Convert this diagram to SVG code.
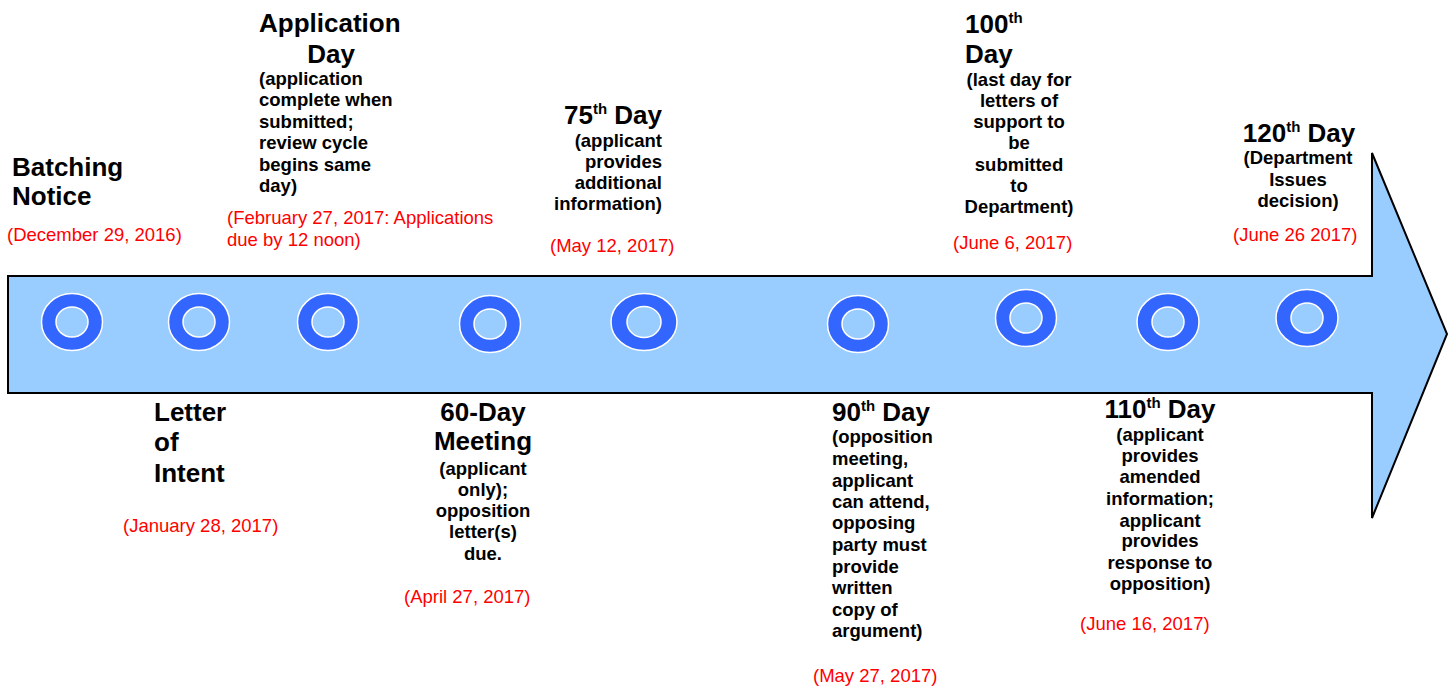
<svg xmlns="http://www.w3.org/2000/svg" width="1450" height="686" viewBox="0 0 1450 686">
<style>
  text { font-family: "Liberation Sans", Arial, sans-serif; }
  .t { font-size: 26px; font-weight: bold; fill: #000; }
  .s { font-size: 18.5px; font-weight: bold; fill: #000; }
  .d { font-size: 18.5px; fill: #FF0000; }
  .sup { font-size: 15px; }
  .ro { fill: #3366FF; stroke: #FFFFFF; stroke-width: 1.5; }
  .ri { fill: #99CCFF; stroke: #FFFFFF; stroke-width: 1.5; }
</style>
<rect width="1450" height="686" fill="#FFFFFF"/>
<g id="timeline">
  <path d="M8,276 L1372,276 L1372,153 L1447,334 L1372,518 L1372,393 L8,393 Z" fill="#99CCFF" stroke="#000000" stroke-width="2" stroke-linejoin="miter"/>
</g>
<g id="markers">
  <g id="m1"><ellipse class="ro" cx="72" cy="322" rx="30.5" ry="28.5"/><ellipse class="ri" cx="72" cy="322" rx="16" ry="15"/></g>
  <g id="m2"><ellipse class="ro" cx="199" cy="322" rx="30.5" ry="28.5"/><ellipse class="ri" cx="199" cy="322" rx="16" ry="15"/></g>
  <g id="m3"><ellipse class="ro" cx="328" cy="322" rx="30.5" ry="28.5"/><ellipse class="ri" cx="328" cy="322" rx="16" ry="15"/></g>
  <g id="m4"><ellipse class="ro" cx="490" cy="324" rx="30.5" ry="28.5"/><ellipse class="ri" cx="490" cy="324" rx="16" ry="15"/></g>
  <g id="m5"><ellipse class="ro" cx="644" cy="322" rx="33" ry="28.5"/><ellipse class="ri" cx="644" cy="322" rx="17" ry="15.5"/></g>
  <g id="m6"><ellipse class="ro" cx="858" cy="324" rx="30.5" ry="28.5"/><ellipse class="ri" cx="858" cy="324" rx="16" ry="15"/></g>
  <g id="m7"><ellipse class="ro" cx="1026" cy="318" rx="30.5" ry="28.5"/><ellipse class="ri" cx="1026" cy="318" rx="16" ry="15"/></g>
  <g id="m8"><ellipse class="ro" cx="1168" cy="322" rx="31" ry="28.5"/><ellipse class="ri" cx="1168" cy="322" rx="16" ry="15"/></g>
  <g id="m9"><ellipse class="ro" cx="1307" cy="318" rx="31" ry="28.5"/><ellipse class="ri" cx="1307" cy="318" rx="16" ry="15"/></g>
</g>
<g id="connectors"></g>

<g id="batching">
  <text class="t" x="12" y="176">Batching</text>
  <text class="t" x="12" y="205">Notice</text>
  <text class="d" x="7" y="241">(December 29, 2016)</text>
</g>

<g id="letter-of-intent">
  <text class="t" x="154" y="421">Letter</text>
  <text class="t" x="154" y="451">of</text>
  <text class="t" x="154" y="482">Intent</text>
  <text class="d" x="123" y="532">(January 28, 2017)</text>
</g>

<g id="application-day">
  <text class="t" x="259" y="32">Application</text>
  <text class="t" x="331" y="63" text-anchor="middle">Day</text>
  <text class="s" x="259" y="85">(application</text>
  <text class="s" x="259" y="106">complete when</text>
  <text class="s" x="259" y="128">submitted;</text>
  <text class="s" x="259" y="149">review cycle</text>
  <text class="s" x="259" y="171">begins same</text>
  <text class="s" x="259" y="192">day)</text>
  <text class="d" x="227" y="224">(February 27, 2017: Applications</text>
  <text class="d" x="227" y="246">due by 12 noon)</text>
</g>

<g id="day-60">
  <text class="t" x="483" y="421" text-anchor="middle">60-Day</text>
  <text class="t" x="483" y="450" text-anchor="middle">Meeting</text>
  <text class="s" x="483" y="475" text-anchor="middle">(applicant</text>
  <text class="s" x="483" y="496" text-anchor="middle">only);</text>
  <text class="s" x="483" y="517" text-anchor="middle">opposition</text>
  <text class="s" x="483" y="538" text-anchor="middle">letter(s)</text>
  <text class="s" x="483" y="560" text-anchor="middle">due.</text>
  <text class="d" x="404" y="603">(April 27, 2017)</text>
</g>

<g id="day-75">
  <text class="t" x="662" y="124" text-anchor="end">75<tspan class="sup" dy="-10">th</tspan><tspan dy="10"> Day</tspan></text>
  <text class="s" x="662" y="147" text-anchor="end">(applicant</text>
  <text class="s" x="662" y="168" text-anchor="end">provides</text>
  <text class="s" x="662" y="189" text-anchor="end">additional</text>
  <text class="s" x="662" y="210" text-anchor="end">information)</text>
  <text class="d" x="550" y="252">(May 12, 2017)</text>
</g>

<g id="day-90">
  <text class="t" x="832" y="421">90<tspan class="sup" dy="-10">th</tspan><tspan dy="10"> Day</tspan></text>
  <text class="s" x="832" y="443">(opposition</text>
  <text class="s" x="832" y="465">meeting,</text>
  <text class="s" x="832" y="487">applicant</text>
  <text class="s" x="832" y="508">can attend,</text>
  <text class="s" x="832" y="529">opposing</text>
  <text class="s" x="832" y="551">party must</text>
  <text class="s" x="832" y="573">provide</text>
  <text class="s" x="832" y="594">written</text>
  <text class="s" x="832" y="616">copy of</text>
  <text class="s" x="832" y="637">argument)</text>
  <text class="d" x="813" y="682">(May 27, 2017)</text>
</g>

<g id="day-100">
  <text class="t" x="965" y="33">100<tspan class="sup" dy="-10">th</tspan></text>
  <text class="t" x="965" y="63">Day</text>
  <text class="s" x="1019" y="86" text-anchor="middle">(last day for</text>
  <text class="s" x="1019" y="107" text-anchor="middle">letters of</text>
  <text class="s" x="1019" y="128" text-anchor="middle">support to</text>
  <text class="s" x="1019" y="149" text-anchor="middle">be</text>
  <text class="s" x="1019" y="171" text-anchor="middle">submitted</text>
  <text class="s" x="1019" y="192" text-anchor="middle">to</text>
  <text class="s" x="1019" y="213" text-anchor="middle">Department)</text>
  <text class="d" x="953" y="249">(June 6, 2017)</text>
</g>

<g id="day-110">
  <text class="t" x="1160" y="418" text-anchor="middle">110<tspan class="sup" dy="-10">th</tspan><tspan dy="10"> Day</tspan></text>
  <text class="s" x="1160" y="441" text-anchor="middle">(applicant</text>
  <text class="s" x="1160" y="462" text-anchor="middle">provides</text>
  <text class="s" x="1160" y="483" text-anchor="middle">amended</text>
  <text class="s" x="1160" y="505" text-anchor="middle">information;</text>
  <text class="s" x="1160" y="527" text-anchor="middle">applicant</text>
  <text class="s" x="1160" y="547" text-anchor="middle">provides</text>
  <text class="s" x="1160" y="569" text-anchor="middle">response to</text>
  <text class="s" x="1160" y="590" text-anchor="middle">opposition)</text>
  <text class="d" x="1080" y="630">(June 16, 2017)</text>
</g>

<g id="day-120">
  <text class="t" x="1299" y="142" text-anchor="middle">120<tspan class="sup" dy="-10">th</tspan><tspan dy="10"> Day</tspan></text>
  <text class="s" x="1298" y="164" text-anchor="middle">(Department</text>
  <text class="s" x="1298" y="186" text-anchor="middle">Issues</text>
  <text class="s" x="1298" y="207" text-anchor="middle">decision)</text>
  <text class="d" x="1233" y="241">(June 26 2017)</text>
</g>
</svg>
